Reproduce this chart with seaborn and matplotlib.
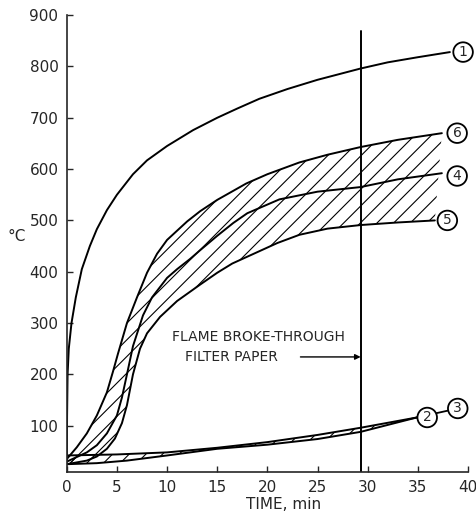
import numpy as np
import pandas as pd
import matplotlib
matplotlib.use('Agg')
import matplotlib.pyplot as plt
import seaborn as sns

# courbes de temperature (temps en min, temperature en degres C)
t1 = [0, 0.03, 0.08, 0.2, 0.47, 0.9, 1.5, 2.3, 3.0, 4.0, 5.0, 6.6, 8, 10, 12.6, 15, 17, 19.2, 22, 25, 29.3, 32, 35, 38.2]
v1 = [30, 120, 200, 250, 300, 350, 405, 450, 483, 520, 550, 590, 617, 645, 676, 700, 718, 737, 756, 774, 796, 808, 818, 828]

t6 = [0, 1, 2, 3, 4, 4.6, 5.1, 6, 7, 8, 9, 10, 12, 13.3, 15, 17.9, 20, 23.2, 26, 29.3, 33, 37.4]
v6 = [35, 58, 85, 120, 165, 205, 240, 300, 350, 398, 435, 462, 498, 518, 540, 572, 590, 613, 628, 643, 657, 670]

t4 = [0, 2, 3, 4, 5, 5.5, 6, 6.6, 7.6, 8.5, 10, 11, 12.3, 13.3, 15, 16.6, 18, 21.2, 25, 29.3, 33, 37.4]
v4 = [30, 48, 62, 85, 120, 155, 200, 255, 315, 350, 388, 405, 425, 442, 470, 495, 514, 541, 556, 565, 580, 592]

t5 = [0, 2, 3, 4, 4.8, 5.5, 6, 6.6, 7.3, 8, 9.3, 11, 13.3, 15, 16.5, 19.2, 21, 23.2, 26, 29.3, 33, 36.7]
v5 = [25, 32, 40, 55, 75, 105, 140, 200, 250, 280, 312, 343, 375, 398, 416, 440, 456, 472, 484, 491, 496, 500]

t2 = [0, 5, 10, 15, 20, 25, 29.3, 34.9]
v2 = [42, 44, 48, 57, 68, 82, 96, 116]

t3 = [0, 3, 6, 10, 15, 20, 25, 29.3, 34.9]
v3 = [25, 27, 32, 42, 55, 63, 74, 88, 116]

flame_time = 29.3

curves = {'1': (t1, v1), '6': (t6, v6), '4': (t4, v4), '5': (t5, v5), '2': (t2, v2), '3': (t3, v3)}
df = pd.concat([pd.DataFrame({'temps': t, 'temp': v, 'courbe': k}) for k, (t, v) in curves.items()])

sns.set_style('ticks')
plt.rcParams['font.family'] = ['DejaVu Sans']
plt.rcParams['hatch.linewidth'] = 0.8

fig = plt.figure(figsize=(4.77, 5.22), dpi=100)
ax = fig.add_axes([0.140, 0.096, 0.841, 0.875])

sns.lineplot(data=df, x='temps', y='temp', hue='courbe', palette=['black'] * 6,
             estimator=None, sort=False, legend=False, linewidth=1.4, ax=ax)

# zones hachurees
ax.fill(np.concatenate([t6, t5[::-1]]), np.concatenate([v6, v5[::-1]]),
        facecolor='none', edgecolor='black', hatch='//', linewidth=0)
ax.fill(np.concatenate([t2, t3[::-1]]), np.concatenate([v2, v3[::-1]]),
        facecolor='none', edgecolor='black', hatch='//', linewidth=0)

ax.axvline(flame_time, ymax=(870 - 10) / 890, color='black', lw=1.4)

ax.annotate('', xy=(flame_time, 234), xytext=(23.3, 234),
            arrowprops=dict(arrowstyle='-|>', color='black', lw=1.0, mutation_scale=8,
                            shrinkA=0, shrinkB=0))
ax.text(10.5, 273, 'FLAME BROKE-THROUGH', fontsize=10, va='center', ha='left')
ax.text(11.8, 234, 'FILTER PAPER', fontsize=10, va='center', ha='left')

# etiquettes cerclees
circ = dict(boxstyle='circle,pad=0.2', fc='white', ec='black', lw=1.3)
offsets = {'1': (9.5, 0), '6': (11, 0), '4': (11, -2), '5': (9, 0), '2': (7.5, 0)}
ax.annotate('3', xy=(t3[-1], v3[-1]), xytext=(29.5, 6.5), textcoords='offset points',
            ha='center', va='center', fontsize=10, bbox=circ, zorder=5,
            arrowprops=dict(arrowstyle='-', color='black', lw=1.3, shrinkA=0, shrinkB=0),
            annotation_clip=False)
for k, (dx, dy) in offsets.items():
    t, v = curves[k]
    ax.annotate(k, xy=(t[-1], v[-1]), xytext=(dx, dy), textcoords='offset points',
                ha='center', va='center', fontsize=10, bbox=circ, zorder=6,
                annotation_clip=False)

ax.set_xlim(0, 40)
ax.set_ylim(10, 900)
ax.set_xticks(range(0, 41, 5))
ax.set_yticks(range(100, 901, 100))
ax.tick_params(direction='in', length=4, width=1, labelsize=11, pad=6)
sns.despine(ax=ax)
for s in ['left', 'bottom']:
    ax.spines[s].set_linewidth(1.2)

ax.set_xlabel('TIME, min', fontsize=11)
ax.xaxis.set_label_coords(0.54, -0.055)
ax.set_ylabel('°C', fontsize=11, rotation=0)
ax.yaxis.set_label_coords(-0.125, 0.5)

fig.savefig('out.png', dpi=100)
